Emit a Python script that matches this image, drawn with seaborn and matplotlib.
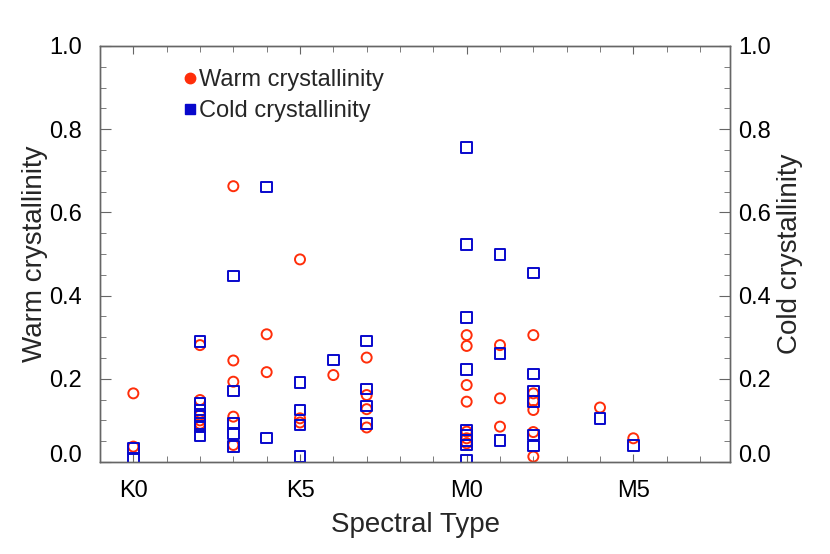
import matplotlib
matplotlib.use('Agg')
import matplotlib.pyplot as plt
import matplotlib.transforms as mtransforms
from matplotlib.lines import Line2D
from matplotlib.ticker import MultipleLocator
import pandas as pd
import seaborn as sns

sns.set_style("ticks")
plt.rcParams['font.family'] = ['Liberation Sans', 'DejaVu Sans']

# spectral subtype index: K0=0 ... K5=5, M0=10, M5=15
type_ticks = [0, 5, 10, 15]
type_labels = ["K0", "K5", "M0", "M5"]

warm_type = [0, 0,
             2, 2, 2, 2, 2, 2,
             3, 3, 3, 3, 3,
             4, 4,
             5, 5, 5,
             6,
             7, 7, 7, 7,
             10, 10, 10, 10, 10, 10, 10,
             11, 11, 11,
             12, 12, 12, 12, 12, 12,
             14, 15]
warm_val = [0.165, 0.037,
            0.281, 0.149, 0.112, 0.100, 0.092, 0.085,
            0.663, 0.244, 0.193, 0.109, 0.041,
            0.307, 0.216,
            0.487, 0.105, 0.095,
            0.209,
            0.251, 0.161, 0.127, 0.083,
            0.305, 0.279, 0.185, 0.145, 0.073, 0.057, 0.045,
            0.281, 0.153, 0.085,
            0.305, 0.165, 0.147, 0.125, 0.072, 0.013,
            0.131, 0.057]

cold_type = [0, 0,
             2, 2, 2, 2, 2, 2, 2,
             3, 3, 3, 3, 3,
             4, 4,
             5, 5, 5, 5,
             6,
             7, 7, 7, 7,
             10, 10, 10, 10, 10, 10, 10, 10, 10,
             11, 11, 11,
             12, 12, 12, 12, 12, 12,
             14, 15]
cold_val = [0.033, 0.009,
            0.289, 0.141, 0.125, 0.109, 0.093, 0.085, 0.062,
            0.447, 0.171, 0.093, 0.069, 0.037,
            0.661, 0.058,
            0.191, 0.125, 0.089, 0.013,
            0.245,
            0.291, 0.175, 0.135, 0.093,
            0.756, 0.523, 0.347, 0.223, 0.077, 0.065, 0.051, 0.041, 0.005,
            0.499, 0.261, 0.051,
            0.454, 0.212, 0.171, 0.145, 0.065, 0.038,
            0.105, 0.039]

warm = pd.DataFrame({"type": warm_type, "val": warm_val})
cold = pd.DataFrame({"type": cold_type, "val": cold_val})

red = "#ff2e0a"
blue = "#0808cc"
axis_col = "#666666"
fs = 17
lfs = 20

fig = plt.figure(figsize=(8.3, 5.54), dpi=100)
ax = fig.add_axes([100 / 830, 1 - 462 / 554, 630 / 830, 416 / 554])
ax2 = ax.twinx()

sns.scatterplot(data=warm, x="type", y="val", ax=ax, marker="o", s=52,
                color=red, facecolors="none", edgecolor=red, linewidth=1.4)
sns.scatterplot(data=cold, x="type", y="val", ax=ax2, marker="s", s=58,
                color=blue, facecolors="none", edgecolor=blue, linewidth=1.4)

ax.set_xlim(-1, 17.9)
ax.set_ylim(0, 1)
ax2.set_ylim(0, 1)
ax.set_xticks(type_ticks)
ax.set_xticklabels(type_labels)
ax.xaxis.set_minor_locator(MultipleLocator(1))
for a in (ax, ax2):
    a.set_yticks([0, 0.2, 0.4, 0.6, 0.8, 1.0])
    a.set_yticklabels(["0.0", "0.2", "0.4", "0.6", "0.8", "1.0"])
    a.yaxis.set_minor_locator(MultipleLocator(0.05))
    for s in a.spines.values():
        s.set_color(axis_col)
        s.set_linewidth(1.0)

ax.tick_params(axis="x", which="both", direction="in", top=True, bottom=True,
               colors=axis_col, labelcolor="black", labelsize=fs, pad=13)
ax.tick_params(axis="x", which="major", length=6)
ax.tick_params(axis="x", which="minor", length=4)
ax.tick_params(axis="y", which="both", direction="in", left=True, right=False,
               colors=axis_col, labelcolor="black", labelsize=fs, pad=13)
ax.tick_params(axis="y", which="major", length=8)
ax.tick_params(axis="y", which="minor", length=4.5)
ax2.tick_params(axis="y", which="both", direction="in", right=True, left=False,
                colors=axis_col, labelcolor="black", labelsize=fs, pad=6)
ax2.tick_params(axis="y", which="major", length=8)
ax2.tick_params(axis="y", which="minor", length=4.5)

ax.set_xlabel("Spectral Type", fontsize=lfs, labelpad=7)
ax.set_ylabel("Warm crystallinity", fontsize=lfs, labelpad=1)
ax2.set_ylabel("Cold crystallinity", fontsize=lfs, labelpad=4)

# lift the bottom "0.0" labels off the x axis, as in the original
shift = mtransforms.ScaledTranslation(0, 8 / 100, fig.dpi_scale_trans)
for a in (ax, ax2):
    t = a.yaxis.get_major_ticks()[0]
    t.label1.set_transform(t.label1.get_transform() + shift)
    t.label2.set_transform(t.label2.get_transform() + shift)

handles = [Line2D([], [], marker="o", linestyle="none", color=red, markersize=7.5),
           Line2D([], [], marker="s", linestyle="none", color=blue, markersize=6.5)]
ax.legend(handles, ["Warm crystallinity", "Cold crystallinity"], loc="upper left",
          bbox_to_anchor=(0.108, 0.985), frameon=False, fontsize=fs,
          handlelength=0.5, handletextpad=0.12, labelspacing=0.4, borderpad=0.2)

fig.savefig("out.png", dpi=100)
